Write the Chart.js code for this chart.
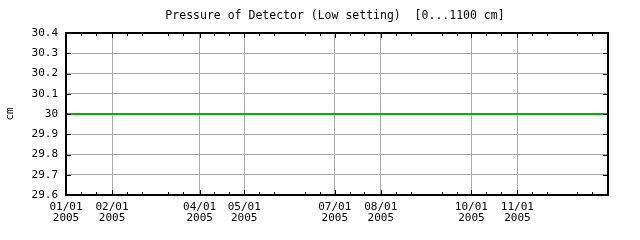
<!DOCTYPE html>
<html>
<head>
<meta charset="utf-8">
<script src="https://cdn.jsdelivr.net/npm/chart.js@4.4.1/dist/chart.umd.min.js"></script>
<style>
  html, body { margin: 0; padding: 0; background: #fff; }
  #wrap { width: 640px; height: 240px; position: relative; }
</style>
</head>
<body>
<div id="wrap"><canvas id="pressureChart"></canvas></div>
<script>
// ---- data (days since 01/01/2005) ----
const pointDays   = [0, 31, 59, 90, 120, 151, 181, 212, 243, 273, 304, 334, 365];
const pressureCm  = [30, 30, 30, 30, 30, 30, 30, 30, 30, 30, 30, 30, 30];
const xTickDays   = [0, 31, 90, 120, 181, 212, 273, 304];
const xTickLabels = [
    ['01/01', '2005'], ['02/01', '2005'], ['04/01', '2005'], ['05/01', '2005'],
    ['07/01', '2005'], ['08/01', '2005'], ['10/01', '2005'], ['11/01', '2005']
];
const monthStarts = [0, 31, 59, 90, 120, 151, 181, 212, 243, 273, 304, 334];
const yTicks      = [29.6, 29.7, 29.8, 29.9, 30, 30.1, 30.2, 30.3, 30.4];

const FONT = '"DejaVu Sans Mono", monospace';

// title + inner tick marks + full frame
const frameTicks = {
    id: 'frameTicks',
    afterDraw(chart) {
        const ctx = chart.ctx;
        const a = chart.chartArea;
        const xs = chart.scales.x;
        const ys = chart.scales.y;
        ctx.save();
        ctx.strokeStyle = '#000';
        ctx.lineWidth = 1;
        ctx.beginPath();
        // major x ticks
        xTickDays.forEach(d => {
            const px = Math.round(xs.getPixelForValue(d)) + 0.5;
            ctx.moveTo(px, a.bottom); ctx.lineTo(px, a.bottom - 5);
            ctx.moveTo(px, a.top); ctx.lineTo(px, a.top + 5);
        });
        // minor x ticks (11th and 21st)
        monthStarts.forEach(m => {
            [10, 20].forEach(o => {
                const px = Math.round(xs.getPixelForValue(m + o)) + 0.5;
                ctx.moveTo(px, a.bottom); ctx.lineTo(px, a.bottom - 3);
                ctx.moveTo(px, a.top); ctx.lineTo(px, a.top + 3);
            });
        });
        // y ticks, both sides
        yTicks.forEach(v => {
            const py = Math.round(ys.getPixelForValue(v)) + 0.5;
            ctx.moveTo(a.left, py); ctx.lineTo(a.left + 5, py);
            ctx.moveTo(a.right, py); ctx.lineTo(a.right - 5, py);
        });
        ctx.stroke();
        ctx.lineWidth = 2;
        ctx.strokeRect(a.left, a.top, a.right - a.left, a.bottom - a.top);

        ctx.fillStyle = '#000';
        ctx.font = '11.5px ' + FONT;
        ctx.textAlign = 'center';
        ctx.textBaseline = 'middle';
        ctx.fillText('Pressure of Detector (Low setting)  [0...1100 cm]', (a.left + a.right) / 2 - 2, 16);
        ctx.restore();
    }
};

new Chart(document.getElementById('pressureChart'), {
    type: 'line',
    data: {
        datasets: [{
            data: pointDays.map((d, i) => ({ x: d, y: pressureCm[i] })),
            borderColor: '#00b400',
            borderWidth: 2,
            pointRadius: 0,
            tension: 0
        }]
    },
    options: {
        responsive: true,
        maintainAspectRatio: false,
        animation: false,
        layout: { padding: { left: 0, right: 32, top: 33, bottom: 0 } },
        plugins: {
            legend: { display: false },
            tooltip: { enabled: false }
        },
        scales: {
            x: {
                type: 'linear',
                min: 0,
                max: 365,
                afterBuildTicks: s => { s.ticks = xTickDays.map(v => ({ value: v })); },
                afterFit: s => { s.height = 45; },
                grid: { color: '#a8a8a8', drawTicks: false },
                border: { display: false },
                ticks: {
                    autoSkip: false,
                    maxRotation: 0,
                    padding: 7,
                    color: '#000',
                    font: { family: FONT, size: 11, lineHeight: 1.0 },
                    callback: v => xTickLabels[xTickDays.indexOf(v)]
                }
            },
            y: {
                min: 29.6,
                max: 30.4,
                afterBuildTicks: s => { s.ticks = yTicks.map(v => ({ value: v })); },
                afterFit: s => { s.width = 66; },
                grid: { color: '#a8a8a8', drawTicks: false },
                border: { display: false },
                title: {
                    display: true,
                    text: 'cm',
                    color: '#000',
                    font: { family: FONT, size: 11 },
                    padding: { top: 4, bottom: 0 }
                },
                ticks: {
                    padding: 8,
                    color: '#000',
                    font: { family: FONT, size: 11 },
                    callback: v => String(parseFloat(v.toFixed(1)))
                }
            }
        }
    },
    plugins: [frameTicks]
});
</script>
</body>
</html>
